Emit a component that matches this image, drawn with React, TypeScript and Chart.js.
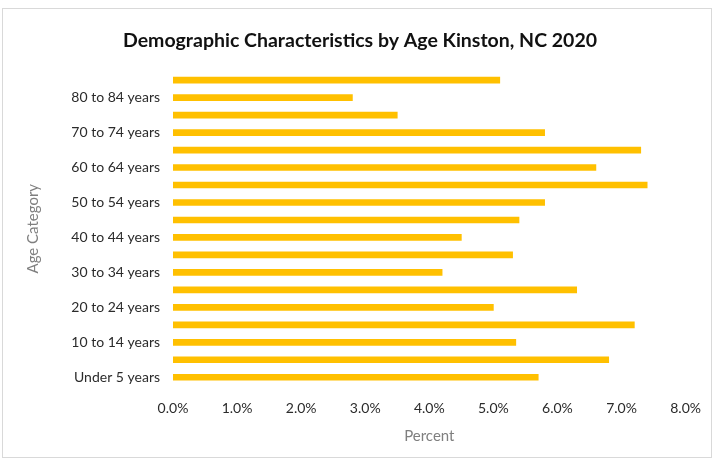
import React, { useEffect, useRef } from "react";
import { Chart, registerables } from "chart.js";

Chart.register(...registerables);

const categories = [
  "Under 5 years",
  "5 to 9 years",
  "10 to 14 years",
  "15 to 19 years",
  "20 to 24 years",
  "25 to 29 years",
  "30 to 34 years",
  "35 to 39 years",
  "40 to 44 years",
  "45 to 49 years",
  "50 to 54 years",
  "55 to 59 years",
  "60 to 64 years",
  "65 to 69 years",
  "70 to 74 years",
  "75 to 79 years",
  "80 to 84 years",
  "85 years and over",
];

const percentValues = [5.7, 6.8, 5.35, 7.2, 5.0, 6.3, 4.2, 5.3, 4.5, 5.4, 5.8, 7.4, 6.6, 7.3, 5.8, 3.5, 2.8, 5.1];

const xTicks = [0, 1, 2, 3, 4, 5, 6, 7, 8];

const W = 715;
const H = 463;

export default function App() {
  const ref = useRef<HTMLCanvasElement | null>(null);

  useEffect(() => {
    document.body.style.margin = "0";
    const canvas = ref.current;
    if (!canvas) return;
    const chart = new Chart(canvas, {
      type: "bar",
      data: {
        labels: categories,
        datasets: [
          {
            label: "Percent",
            data: percentValues,
            backgroundColor: "#FFC000",
            barThickness: 6,
          },
        ],
      },
      options: {
        indexAxis: "y",
        animation: false,
        responsive: false,
        maintainAspectRatio: false,
        layout: { padding: { left: 34, right: 29, top: 19, bottom: 10 } },
        plugins: {
          legend: { display: false },
          tooltip: { enabled: false },
          title: {
            display: true,
            text: "Demographic Characteristics by Age Kinston, NC 2020",
            color: "#111111",
            font: { family: "Lato", size: 19.5, weight: "bold" },
            padding: { top: 10, bottom: 19 },
          },
        },
        scales: {
          x: {
            min: 0,
            max: 8,
            afterBuildTicks: (scale: any) => {
              scale.ticks = xTicks.map((v) => ({ value: v }));
            },
            afterFit: (scale: any) => {
              scale.height = 67;
            },
            grid: { display: false, drawTicks: false },
            border: { display: false },
            ticks: {
              padding: 14,
              color: "#2b2b2b",
              font: { family: "Lato", size: 14 },
              callback: (v: any) => Number(v).toFixed(1) + "%",
            },
            title: {
              display: true,
              text: "Percent",
              color: "#7f7f7f",
              font: { family: "Lato", size: 15 },
              padding: { top: 0, bottom: 8 },
            },
          },
          y: {
            reverse: true,
            afterFit: (scale: any) => {
              scale.width = 139;
            },
            grid: { display: false, drawTicks: false },
            border: { display: false },
            ticks: {
              autoSkip: false,
              padding: 13,
              color: "#2b2b2b",
              font: { family: "Lato", size: 14 },
              callback: (_v: any, i: number) => (i % 2 === 0 ? categories[i] : ""),
            },
            title: {
              display: true,
              text: "Age Category",
              color: "#7f7f7f",
              font: { family: "Lato", size: 15 },
              padding: { top: -10, bottom: 0 },
            },
          },
        },
      },
    });
    return () => chart.destroy();
  }, []);

  return (
    <div style={{ position: "relative", width: W, height: H, background: "#ffffff" }}>
      <canvas ref={ref} width={W} height={H} style={{ display: "block" }} />
      <div
        style={{
          position: "absolute",
          left: 2,
          top: 8,
          width: 710,
          height: 450,
          border: "1px solid #d9d9d9",
          boxSizing: "border-box",
          pointerEvents: "none",
        }}
      />
    </div>
  );
}
